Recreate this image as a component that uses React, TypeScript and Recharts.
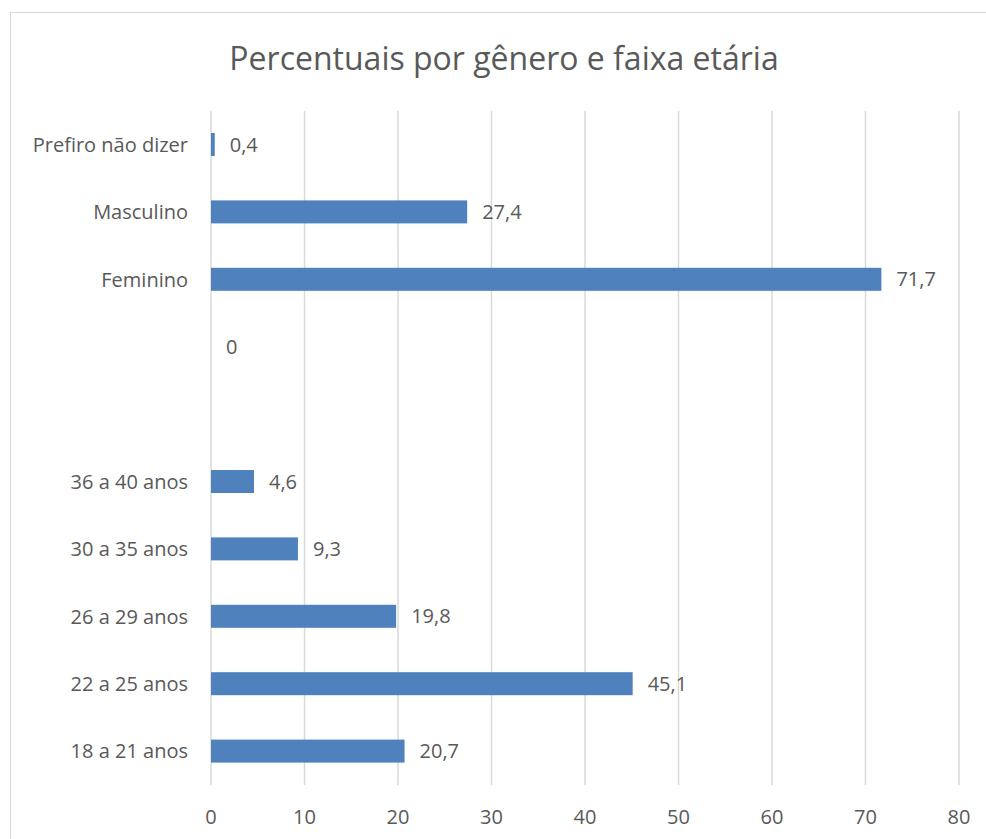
import React from "react";
import { BarChart, Bar, XAxis, YAxis, CartesianGrid, LabelList } from "recharts";

const categories = [
  "Prefiro não dizer",
  "Masculino",
  "Feminino",
  " ",
  "  ",
  "36 a 40 anos",
  "30 a 35 anos",
  "26 a 29 anos",
  "22 a 25 anos",
  "18 a 21 anos",
];
const values: (number | null)[] = [0.4, 27.4, 71.7, 0, null, 4.6, 9.3, 19.8, 45.1, 20.7];
const xTicks = [0, 10, 20, 30, 40, 50, 60, 70, 80];
const title = "Percentuais por gênero e faixa etária";

const fmt = (v: any) => (v === null || v === undefined ? "" : String(v).replace(".", ","));

const data = categories.map((name, i) => ({ name, value: values[i], lbl: fmt(values[i]) }));

const FONT = "'Open Sans', 'Noto Sans', sans-serif";
const TEXT = "#595959";
const FS = 20;

const renderLabel = (props: any) => {
  const { x, y, width, height, value } = props;
  if (value === null || value === undefined || value === "") return null;
  const xx = Number(x) + Math.max(0, Number(width) || 0) + 15;
  const yy = Number(y) + (Number(height) || 0) / 2;
  return (
    <text x={xx} y={yy} dy="0.35em" fill={TEXT} fontSize={FS} fontFamily={FONT} textAnchor="start">
      {value}
    </text>
  );
};

const BarShape = (props: any) => {
  const { x, y, width, height, fill, payload } = props;
  const w = Math.max(0, Number(width) || 0);
  const lbl = payload ? payload.lbl : "";
  return (
    <g>
      {w > 0 && <rect x={x} y={y} width={w} height={height} fill={fill} />}
      {lbl !== "" && (
        <text
          x={Number(x) + w + 15}
          y={Number(y) + Number(height) / 2}
          dy="0.35em"
          fill={TEXT}
          fontSize={FS}
          fontFamily={FONT}
          textAnchor="start"
        >
          {lbl}
        </text>
      )}
    </g>
  );
};

export default function App() {
  return (
    <div style={{ position: "fixed", left: 0, top: 0, width: 986, height: 839, overflow: "hidden", background: "#fff" }}>
      <div
        style={{
          position: "absolute",
          left: 10,
          top: 12,
          width: 1000,
          height: 900,
          border: "1.5px solid #d9d9d9",
        }}
      />
      <div
        style={{
          position: "absolute",
          left: 0,
          top: 36,
          width: 1008,
          textAlign: "center",
          fontFamily: FONT,
          fontSize: 32,
          color: TEXT,
          lineHeight: "44px",
        }}
      >
        {title}
      </div>
      <div style={{ position: "absolute", left: 0, top: 0 }}>
        <BarChart
          width={986}
          height={839}
          data={data}
          layout="vertical"
          margin={{ top: 111, right: 27, bottom: 24, left: 11 }}
          barSize={23}
        >
          <CartesianGrid horizontal={false} vertical={true} stroke="#d9d9d9" strokeWidth={1.5} />
          <XAxis
            type="number"
            domain={[0, 80]}
            ticks={xTicks}
            axisLine={false}
            tickLine={false}
            height={30}
            tick={{ fill: TEXT, fontSize: FS, fontFamily: FONT }}
            tickMargin={19}
            interval={0}
          />
          <YAxis
            type="category"
            dataKey="name"
            width={200}
            axisLine={false}
            tickLine={false}
            tick={{ fill: TEXT, fontSize: FS, fontFamily: FONT }}
            tickMargin={17}
            interval={0}
          />
          <Bar dataKey="value" fill="#4f81bd" isAnimationActive={false} shape={BarShape} />
        </BarChart>
      </div>
    </div>
  );
}
